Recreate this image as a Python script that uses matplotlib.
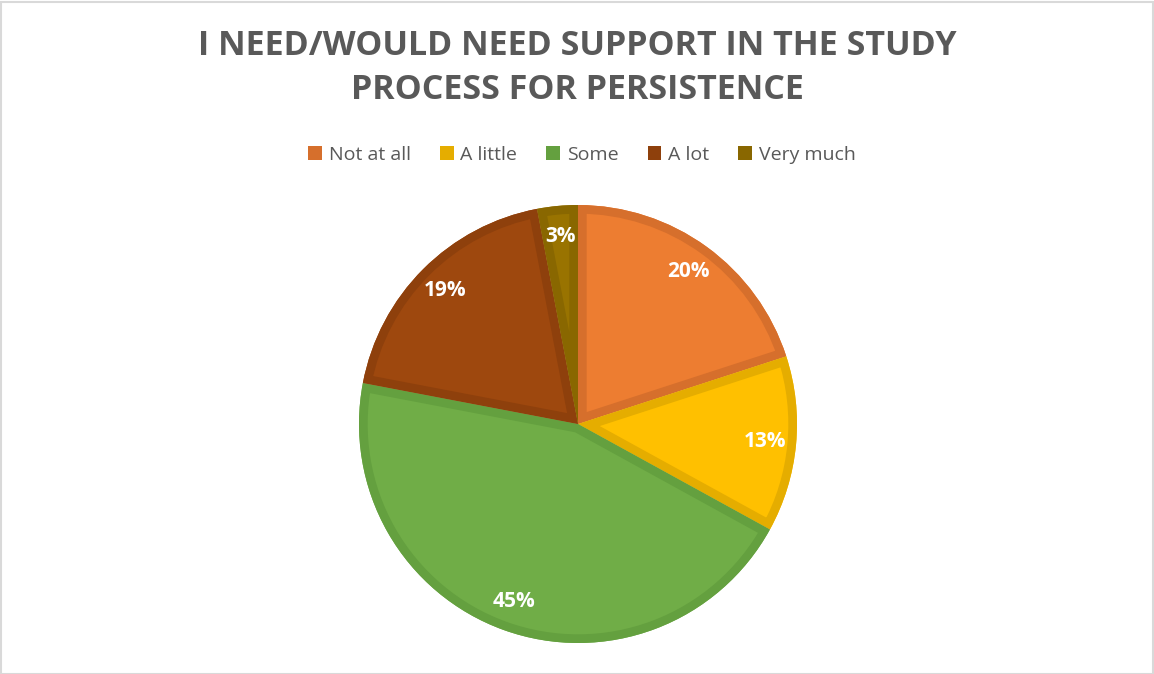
import matplotlib
matplotlib.use("Agg")
import matplotlib.pyplot as plt
from matplotlib.patches import Wedge, Patch, Rectangle

categories = ["Not at all", "A little", "Some", "A lot", "Very much"]
shares = [20, 13, 45, 19, 3]
fill_colors = ["#ED7D31", "#FFC000", "#70AD47", "#9E480E", "#997300"]
edge_colors = ["#D66F2C", "#E5AD00", "#64A03F", "#8E400C", "#896700"]
title_text = "I NEED/WOULD NEED SUPPORT IN THE STUDY\nPROCESS FOR PERSISTENCE"

W, H = 1154, 674
fig = plt.figure(figsize=(W / 100, H / 100), dpi=100)
fig.patch.set_facecolor("white")

text_grey = "#595959"
font = "Open Sans"

# Pie axes: square box centred on the pie
cx, cy, R = 578, 424, 219
ax = fig.add_axes([(cx - R) / W, (H - cy - R) / H, 2 * R / W, 2 * R / H])
wedges, _, autotexts = ax.pie(
    shares,
    colors=fill_colors,
    startangle=90,
    counterclock=False,
    radius=1.0,
    autopct=lambda p: f"{p:.0f}%",
    pctdistance=0.86,
    wedgeprops=dict(linewidth=0),
    textprops=dict(color="white", fontsize=15, fontweight="bold", family=font),
)
ax.set_xlim(-1, 1)
ax.set_ylim(-1, 1)
ax.set_aspect("equal")
ax.axis("off")

# Darker inner border on each slice (stroke clipped to the slice itself)
for w, ec in zip(wedges, edge_colors):
    outline = Wedge(w.center, w.r, w.theta1, w.theta2, fill=False,
                    edgecolor=ec, linewidth=12.5, joinstyle="miter")
    ax.add_patch(outline)
    outline.set_clip_path(w)

# Title
fig.text(0.5, 1 - 68 / H, title_text, ha="center", va="center",
         fontsize=24.5, fontweight="bold", color=text_grey, family=font,
         linespacing=1.38)

# Legend
handles = [Patch(facecolor=c, edgecolor="none") for c in edge_colors]
leg = fig.legend(handles, categories, loc="center", bbox_to_anchor=(582 / W, 1 - 155 / H),
                 ncol=5, frameon=False, handlelength=0.7, handleheight=0.7,
                 handletextpad=0.35, columnspacing=1.5,
                 prop=dict(family=font, size=14))
for t in leg.get_texts():
    t.set_color(text_grey)

# Outer chart border
fig.patches.append(Rectangle((0.5 / W, 0.5 / H), 1 - 2 / W, 1 - 2 / H,
                             transform=fig.transFigure, fill=False,
                             edgecolor="#D9D9D9", linewidth=1.5))

fig.savefig("out.png", dpi=100)
